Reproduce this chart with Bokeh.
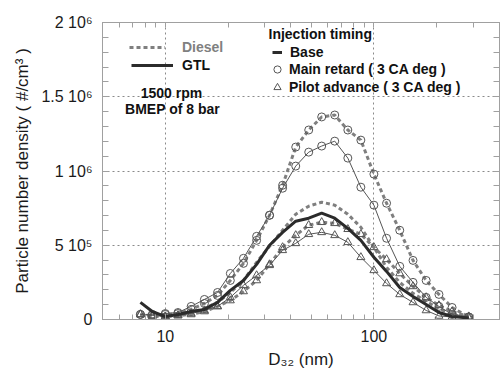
from bokeh.plotting import figure
from bokeh.models import (Range1d, LinearAxis, Legend, LegendItem, Label,
                          CustomJSTickFormatter, FixedTicker, ColumnDataSource)
from bokeh.embed import file_html
from bokeh.resources import INLINE

# ---------------- data ----------------
D32 = [7.6, 8.66, 10.0, 11.5, 13.3, 15.4, 17.8, 20.5, 23.7, 27.4, 31.6, 36.5, 42.2,
       48.7, 56.2, 64.9, 75.0, 86.6, 100, 115, 133, 154, 178, 205, 237, 285]

diesel_base = [27e3, 20e3, 20e3, 34e3, 47e3, 74e3, 115e3, 182e3, 263e3, 385e3, 493e3, 601e3, 709e3,
               763e3, 790e3, 770e3, 709e3, 621e3, 486e3, 351e3, 250e3, 176e3, 122e3, 74e3, 34e3, 10e3]
diesel_retard = [34e3, 27e3, 34e3, 40e3, 68e3, 108e3, 162e3, 263e3, 378e3, 533e3, 702e3, 904e3, 1161e3,
                 1276e3, 1364e3, 1377e3, 1276e3, 1208e3, 979e3, 783e3, 601e3, 398e3, 263e3, 169e3, 81e3, 17e3]
diesel_pilot = [34e3, 20e3, 20e3, 27e3, 34e3, 54e3, 88e3, 128e3, 189e3, 263e3, 371e3, 486e3, 567e3,
                635e3, 655e3, 648e3, 608e3, 574e3, 486e3, 405e3, 310e3, 223e3, 149e3, 95e3, 54e3, 20e3]
gtl_base = [115e3, 54e3, 20e3, 34e3, 54e3, 68e3, 115e3, 196e3, 263e3, 371e3, 500e3, 587e3, 662e3,
            682e3, 716e3, 682e3, 614e3, 533e3, 419e3, 324e3, 216e3, 155e3, 101e3, 47e3, 20e3, 10e3]
gtl_retard = [34e3, 34e3, 40e3, 47e3, 88e3, 135e3, 182e3, 310e3, 412e3, 560e3, 702e3, 884e3, 1033e3,
              1127e3, 1168e3, 1201e3, 1087e3, 891e3, 770e3, 547e3, 358e3, 250e3, 149e3, 88e3, 34e3, 17e3]
gtl_pilot = [34e3, 27e3, 20e3, 27e3, 40e3, 61e3, 88e3, 149e3, 230e3, 297e3, 365e3, 466e3, 513e3,
             574e3, 587e3, 567e3, 520e3, 419e3, 331e3, 243e3, 169e3, 115e3, 61e3, 24e3, 17e3, 10e3]

X_TICKS = [10, 100]
X_LABELS = ["10", "100"]
Y_TICKS = [0, 5e5, 1e6, 1.5e6, 2e6]
Y_LABELS = ["0", "5 10\u2075", "1 10\u2076", "1.5 10\u2076", "2 10\u2076"]

FONT = "Liberation Sans"
FRAME_GRAY = "#a0a0a0"
DIESEL_GRAY = "#7f7f7f"
DARK = "#2b2b2b"
THIN = "#555555"

src = ColumnDataSource(dict(d=D32, db=diesel_base, dr=diesel_retard, dp=diesel_pilot,
                            gb=gtl_base, gr=gtl_retard, gp=gtl_pilot))

p = figure(width=500, height=373, x_axis_type="log",
           x_range=Range1d(5, 400), y_range=Range1d(0, 2e6),
           output_backend="svg", toolbar_location=None,
           min_border_left=102, min_border_right=1, min_border_top=22, min_border_bottom=54)
p.outline_line_color = FRAME_GRAY
p.background_fill_color = "white"
p.border_fill_color = "white"

x_minor = [m * 10 ** e for e in (0, 1, 2) for m in range(2, 10)]
y_minor = [i * 1e5 for i in range(21)]

# bottom axis
xa = p.xaxis[0]
xa.ticker = FixedTicker(ticks=X_TICKS, minor_ticks=x_minor)
xa.formatter = CustomJSTickFormatter(args=dict(vals=X_TICKS, labs=X_LABELS),
                                     code="const i = vals.indexOf(tick); return i >= 0 ? labs[i] : '';")
xa.axis_label = "D\u2083\u2082 (nm)"
# left axis
ya = p.yaxis[0]
ya.ticker = FixedTicker(ticks=Y_TICKS, minor_ticks=y_minor)
ya.formatter = CustomJSTickFormatter(args=dict(vals=Y_TICKS, labs=Y_LABELS),
                                     code="const i = vals.indexOf(tick); return i >= 0 ? labs[i] : '';")
ya.axis_label = "Particle number density ( #/cm\u00b3 )"

for ax in (xa, ya):
    ax.axis_line_color = FRAME_GRAY
    ax.major_tick_line_color = FRAME_GRAY
    ax.minor_tick_line_color = FRAME_GRAY
    ax.major_tick_out = 0
    ax.minor_tick_out = 0
    ax.major_label_text_font = FONT
    ax.major_label_text_font_size = "16px"
    ax.major_label_text_color = "#1a1a1a"
    ax.axis_label_text_font = FONT
    ax.axis_label_text_font_size = "17px"
    ax.axis_label_text_font_style = "normal"
    ax.axis_label_text_color = "#1a1a1a"
xa.major_tick_in = 5
xa.minor_tick_in = 5
xa.major_label_standoff = 10
xa.axis_label_standoff = 5
ya.major_tick_in = 6
ya.minor_tick_in = 6
ya.major_label_standoff = 10
ya.axis_label_standoff = 6

# mirror axes (ticks only)
empty = CustomJSTickFormatter(code="return '';")
right = LinearAxis(ticker=FixedTicker(ticks=Y_TICKS, minor_ticks=y_minor), formatter=empty,
                   major_label_standoff=0, major_tick_in=6, major_tick_out=0,
                   minor_tick_in=6, minor_tick_out=0, axis_line_color=FRAME_GRAY,
                   major_tick_line_color=FRAME_GRAY, minor_tick_line_color=FRAME_GRAY)
top = LinearAxis(ticker=FixedTicker(ticks=X_TICKS, minor_ticks=x_minor), formatter=empty,
                 major_label_standoff=0, major_tick_in=5, major_tick_out=0,
                 minor_tick_in=5, minor_tick_out=0, axis_line_color=FRAME_GRAY,
                 major_tick_line_color=FRAME_GRAY, minor_tick_line_color=FRAME_GRAY)
p.add_layout(right, "right")
p.add_layout(top, "above")

# grids
p.xgrid.ticker = FixedTicker(ticks=X_TICKS)
p.ygrid.ticker = FixedTicker(ticks=[5e5, 1e6, 1.5e6])
for g in (p.xgrid, p.ygrid):
    g.grid_line_color = "#8a8a8a"
    g.grid_line_dash = "2 3"
    g.grid_line_width = 1

# diesel curves (dashed, gray, thick)
r_db = p.line("d", "db", source=src, line_color=DIESEL_GRAY, line_width=3, line_dash="4 3")
p.line("d", "dp", source=src, line_color=DIESEL_GRAY, line_width=3, line_dash="4 3")
p.line("d", "dr", source=src, line_color=DIESEL_GRAY, line_width=3, line_dash="4 3")
p.scatter("d", "dp", source=src, marker="triangle", size=8, line_color=THIN, fill_alpha=0, line_width=1)
p.scatter("d", "dr", source=src, marker="circle", size=8, line_color=THIN, fill_alpha=0, line_width=1)

# GTL curves
p.line("d", "gp", source=src, line_color=THIN, line_width=1)
p.line("d", "gr", source=src, line_color=THIN, line_width=1)
r_gp = p.scatter("d", "gp", source=src, marker="triangle", size=8, line_color=THIN, fill_alpha=0, line_width=1)
r_gr = p.scatter("d", "gr", source=src, marker="circle", size=8, line_color=THIN, fill_alpha=0, line_width=1)
r_gb = p.line("d", "gb", source=src, line_color=DARK, line_width=3)

# legends
common = dict(padding=0, margin=0, border_line_color=None, background_fill_alpha=0,
              label_text_font=FONT, label_text_font_style="bold", label_text_font_size="14px",
              label_text_color="#111111", glyph_height=18, label_height=18, spacing=0)
leg_d = Legend(items=[LegendItem(label="Diesel", renderers=[r_db])], location=(27, 263),
               glyph_width=36, label_standoff=17, **{**common, "label_text_color": "#808080"})
leg_g = Legend(items=[LegendItem(label="GTL", renderers=[r_gb])], location=(29, 245),
               glyph_width=42, label_standoff=9, **common)
leg_b = Legend(items=[LegendItem(label="Base", renderers=[r_gb])], location=(170, 258),
               glyph_width=10, label_standoff=8, **common)
leg_m = Legend(items=[LegendItem(label="Main retard ( 3 CA deg )", renderers=[r_gr]),
                      LegendItem(label="Pilot advance ( 3 CA deg )", renderers=[r_gp])],
               location=(166, 223), glyph_width=18, label_standoff=3, **common)
for lg in (leg_d, leg_g, leg_b, leg_m):
    p.add_layout(lg, "center")

lab_kw = dict(x_units="screen", y_units="screen", text_font=FONT, text_font_style="bold",
              text_font_size="14px", text_color="#111111", text_baseline="middle")
p.add_layout(Label(x=166, y=285.5, text="Injection timing", text_align="left", **lab_kw))
p.add_layout(Label(x=69, y=227, text="1500 rpm", text_align="center", **lab_kw))
p.add_layout(Label(x=70, y=210.5, text="BMEP of 8 bar", text_align="center", **lab_kw))

open("out.html", "w").write(file_html(p, INLINE))
